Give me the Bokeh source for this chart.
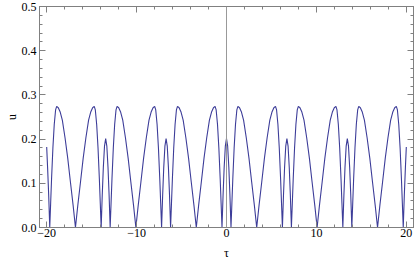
from bokeh.plotting import figure
from bokeh.models import Range1d, LinearAxis, FixedTicker, Span
from bokeh.embed import file_html
from bokeh.resources import INLINE

# tau values
tau = [
    -20.00, -19.90, -19.78, -19.66, -19.56, -19.46, -19.31, -19.16, -19.01, -18.89,
    -18.71, -18.51, -18.26, -17.96, -17.66, -17.36, -17.06, -16.80,
    -16.54, -16.24, -15.94, -15.64, -15.34, -15.09, -14.89, -14.71, -14.59, -14.44,
    -14.29, -14.14, -14.04, -13.94, -13.82, -13.70, -13.57, -13.44, -13.31, -13.18,
    -13.06, -12.94, -12.84, -12.74, -12.59, -12.44, -12.29, -12.17, -11.99, -11.79,
    -11.54, -11.24, -10.94, -10.64, -10.34, -10.08,
    -9.82, -9.52, -9.22, -8.92, -8.62, -8.37, -8.17, -7.99, -7.87, -7.72,
    -7.57, -7.42, -7.32, -7.22, -7.10, -6.98, -6.85, -6.72, -6.59, -6.46,
    -6.34, -6.22, -6.12, -6.02, -5.87, -5.72, -5.57, -5.45, -5.27, -5.07,
    -4.82, -4.52, -4.22, -3.92, -3.62, -3.36,
    -3.10, -2.80, -2.50, -2.20, -1.90, -1.65, -1.45, -1.27, -1.15, -1.00,
    -0.85, -0.70, -0.60, -0.50, -0.38, -0.26, -0.13, 0.00, 0.13, 0.26,
    0.38, 0.50, 0.60, 0.70, 0.85, 1.00, 1.15, 1.27, 1.45, 1.65,
    1.90, 2.20, 2.50, 2.80, 3.10, 3.36,
    3.62, 3.92, 4.22, 4.52, 4.82, 5.07, 5.27, 5.45, 5.57, 5.72,
    5.87, 6.02, 6.12, 6.22, 6.34, 6.46, 6.59, 6.72, 6.85, 6.98,
    7.10, 7.22, 7.32, 7.42, 7.57, 7.72, 7.87, 7.99, 8.17, 8.37,
    8.62, 8.92, 9.22, 9.52, 9.82, 10.08,
    10.34, 10.64, 10.94, 11.24, 11.54, 11.79, 11.99, 12.17, 12.29, 12.44,
    12.59, 12.74, 12.84, 12.94, 13.06, 13.18, 13.31, 13.44, 13.57, 13.70,
    13.82, 13.94, 14.04, 14.14, 14.29, 14.44, 14.59, 14.71, 14.89, 15.09,
    15.34, 15.64, 15.94, 16.24, 16.54, 16.80,
    17.06, 17.36, 17.66, 17.96, 18.26, 18.51, 18.71, 18.89, 19.01, 19.16,
    19.31, 19.46, 19.56, 19.66, 19.78, 19.90, 20.00,
]

# u values
u = [
    0.182, 0.136, 0.074, 0.000, 0.055, 0.109, 0.180, 0.233, 0.266, 0.274,
    0.271, 0.262, 0.243, 0.203, 0.157, 0.103, 0.050, 0.000,
    0.050, 0.103, 0.157, 0.203, 0.243, 0.262, 0.271, 0.274, 0.266, 0.233,
    0.180, 0.109, 0.055, 0.000, 0.074, 0.136, 0.184, 0.201, 0.184, 0.136,
    0.074, 0.000, 0.055, 0.109, 0.180, 0.233, 0.266, 0.274, 0.271, 0.262,
    0.243, 0.203, 0.157, 0.103, 0.050, 0.000,
    0.050, 0.103, 0.157, 0.203, 0.243, 0.262, 0.271, 0.274, 0.266, 0.233,
    0.180, 0.109, 0.055, 0.000, 0.074, 0.136, 0.184, 0.201, 0.184, 0.136,
    0.074, 0.000, 0.055, 0.109, 0.180, 0.233, 0.266, 0.274, 0.271, 0.262,
    0.243, 0.203, 0.157, 0.103, 0.050, 0.000,
    0.050, 0.103, 0.157, 0.203, 0.243, 0.262, 0.271, 0.274, 0.266, 0.233,
    0.180, 0.109, 0.055, 0.000, 0.074, 0.136, 0.184, 0.201, 0.184, 0.136,
    0.074, 0.000, 0.055, 0.109, 0.180, 0.233, 0.266, 0.274, 0.271, 0.262,
    0.243, 0.203, 0.157, 0.103, 0.050, 0.000,
    0.050, 0.103, 0.157, 0.203, 0.243, 0.262, 0.271, 0.274, 0.266, 0.233,
    0.180, 0.109, 0.055, 0.000, 0.074, 0.136, 0.184, 0.201, 0.184, 0.136,
    0.074, 0.000, 0.055, 0.109, 0.180, 0.233, 0.266, 0.274, 0.271, 0.262,
    0.243, 0.203, 0.157, 0.103, 0.050, 0.000,
    0.050, 0.103, 0.157, 0.203, 0.243, 0.262, 0.271, 0.274, 0.266, 0.233,
    0.180, 0.109, 0.055, 0.000, 0.074, 0.136, 0.184, 0.201, 0.184, 0.136,
    0.074, 0.000, 0.055, 0.109, 0.180, 0.233, 0.266, 0.274, 0.271, 0.262,
    0.243, 0.203, 0.157, 0.103, 0.050, 0.000,
    0.050, 0.103, 0.157, 0.203, 0.243, 0.262, 0.271, 0.274, 0.266, 0.233,
    0.180, 0.109, 0.055, 0.000, 0.074, 0.136, 0.182,
]

x_major = [-20, -10, 0, 10, 20]
x_labels = {-20: "\u221220", -10: "\u221210", 0: "0", 10: "10", 20: "20"}
x_minor = [-20, -18, -16, -14, -12, -10, -8, -6, -4, -2, 0, 2, 4, 6, 8, 10, 12, 14, 16, 18, 20]
y_major = [0.0, 0.1, 0.2, 0.3, 0.4, 0.5]
y_labels = {0: "0.0", 0.1: "0.1", 0.2: "0.2", 0.3: "0.3", 0.4: "0.4", 0.5: "0.5"}
y_minor = [round(i * 0.02, 2) for i in range(26)]

FRAME = "#808080"
FONT = "Liberation Serif"

p = figure(width=415, height=263,
           x_range=Range1d(-20.8, 20.8), y_range=Range1d(0, 0.5),
           output_backend="svg", toolbar_location=None,
           x_axis_location=None, y_axis_location=None,
           min_border_left=39, min_border_right=2, min_border_top=6, min_border_bottom=36)
p.styles = {"position": "absolute", "left": "0px", "top": "0px"}
p.grid.visible = False
p.outline_line_color = FRAME
p.background_fill_color = "white"
p.border_fill_color = "white"


def style_axis(ax, labels, show_labels):
    ax.major_tick_in = 6
    ax.major_tick_out = 0
    ax.minor_tick_in = 3
    ax.minor_tick_out = 0
    ax.axis_line_color = FRAME
    ax.major_tick_line_color = FRAME
    ax.minor_tick_line_color = FRAME
    if show_labels:
        ax.major_label_overrides = labels
        ax.major_label_text_font = FONT
        ax.major_label_text_font_size = "12px"
        ax.major_label_text_color = "#000000"
        ax.major_label_standoff = 3
        ax.axis_label_text_font = FONT
        ax.axis_label_text_font_size = "12px"
        ax.axis_label_text_font_style = "normal"
        ax.axis_label_text_color = "#000000"
    else:
        ax.major_label_text_font_size = "0px"
        ax.major_label_standoff = 0
        ax.major_label_overrides = {k: "" for k in labels}


xb = LinearAxis(ticker=FixedTicker(ticks=x_major, minor_ticks=x_minor), axis_label="\u03c4")
style_axis(xb, x_labels, True)
xb.major_label_standoff = 1
xb.axis_label_standoff = 6
p.add_layout(xb, "below")

xt = LinearAxis(ticker=FixedTicker(ticks=x_major, minor_ticks=x_minor))
style_axis(xt, x_labels, False)
p.add_layout(xt, "above")

yl = LinearAxis(ticker=FixedTicker(ticks=y_major, minor_ticks=y_minor), axis_label="u")
style_axis(yl, y_labels, True)
yl.axis_label_standoff = 0
p.add_layout(yl, "left")

yr = LinearAxis(ticker=FixedTicker(ticks=y_major, minor_ticks=y_minor))
style_axis(yr, y_labels, False)
p.add_layout(yr, "right")

p.add_layout(Span(location=0, dimension="height", line_color="#999999", line_width=1))

p.line(tau, u, line_color="#3d3d99", line_width=1.1)

open("out.html", "w").write(file_html(p, INLINE))
